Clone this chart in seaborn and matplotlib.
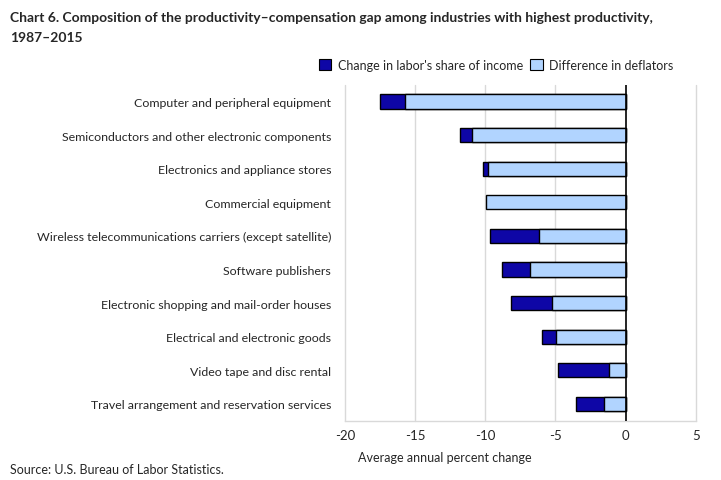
import matplotlib
matplotlib.use("Agg")
import matplotlib.pyplot as plt
import matplotlib.patches as mpatches
import seaborn as sns
import pandas as pd

categories = [
    "Computer and peripheral equipment",
    "Semiconductors and other electronic components",
    "Electronics and appliance stores",
    "Commercial equipment",
    "Wireless telecommunications carriers (except satellite)",
    "Software publishers",
    "Electronic shopping and mail-order houses",
    "Electrical and electronic goods",
    "Video tape and disc rental",
    "Travel arrangement and reservation services",
]
deflators = [-15.71, -10.93, -9.81, -9.96, -6.14, -6.81, -5.24, -4.93, -1.21, -1.53]
labor_share = [-1.77, -0.88, -0.36, 0.05, -3.53, -2.00, -2.95, -1.03, -3.60, -2.00]
xticks = [-20, -15, -10, -5, 0, 5]

dark = "#0E06A6"
light = "#B1D4FF"

sns.set_theme(style="white")
plt.rcParams["font.family"] = ["Lato", "DejaVu Sans"]

df = pd.DataFrame({"cat": categories, "defl": deflators, "labor": labor_share})
df["outer"] = [d + l if l < 0 else l for d, l in zip(df["defl"], df["labor"])]

fig = plt.figure(figsize=(7.21, 4.81), dpi=100)
ax = fig.add_axes([0.4785, 0.1233, 0.4865, 0.6985])

sns.barplot(data=df, x="outer", y="cat", orient="h", color=dark, width=0.42,
            edgecolor="black", linewidth=1, saturation=1, ax=ax)
sns.barplot(data=df, x="defl", y="cat", orient="h", color=light, width=0.42,
            edgecolor="black", linewidth=1, saturation=1, ax=ax)

for t in xticks:
    if t != 0:
        ax.axvline(t, color="#D9D9D9", linewidth=1, zorder=0, clip_on=False)
ax.axvline(0, color="black", linewidth=1.2, zorder=5)
ax.set_xlim(-20, 5)
ax.set_xticks(xticks)
ax.set_xticklabels([str(t) for t in xticks], fontsize=9.5)
ax.set_ylim(9.5, -0.5)
ax.set_xlabel("")
ax.set_ylabel("")
ax.tick_params(axis="y", length=0, pad=10, labelsize=8.9)
ax.tick_params(axis="x", length=0, pad=6)
for s in ["top", "left", "right"]:
    ax.spines[s].set_visible(False)
ax.spines["bottom"].set_color("#D9D9D9")
ax.spines["bottom"].set_linewidth(1)

fig.text(0.014, 0.962, "Chart 6. Composition of the productivity\u2013compensation gap among industries with highest productivity,",
         fontsize=10, fontweight="bold", ha="left", va="center")
fig.text(0.014, 0.922, "1987\u20132015", fontsize=10, fontweight="bold", ha="left", va="center")

handles = [mpatches.Patch(facecolor=dark, edgecolor="black", linewidth=0.8, label="Change in labor's share of income"),
           mpatches.Patch(facecolor=light, edgecolor="black", linewidth=0.8, label="Difference in deflators")]
fig.legend(handles=handles, loc="center", bbox_to_anchor=(0.688, 0.863), ncol=2, frameon=False,
           fontsize=9, handlelength=1.0, handleheight=1.0, handletextpad=0.5, columnspacing=0.6)

fig.text(0.497, 0.047, "Average annual percent change", fontsize=9, ha="left", va="center")
fig.text(0.014, 0.023, "Source: U.S. Bureau of Labor Statistics.", fontsize=9, ha="left", va="center")

fig.savefig("out.png", dpi=100)
